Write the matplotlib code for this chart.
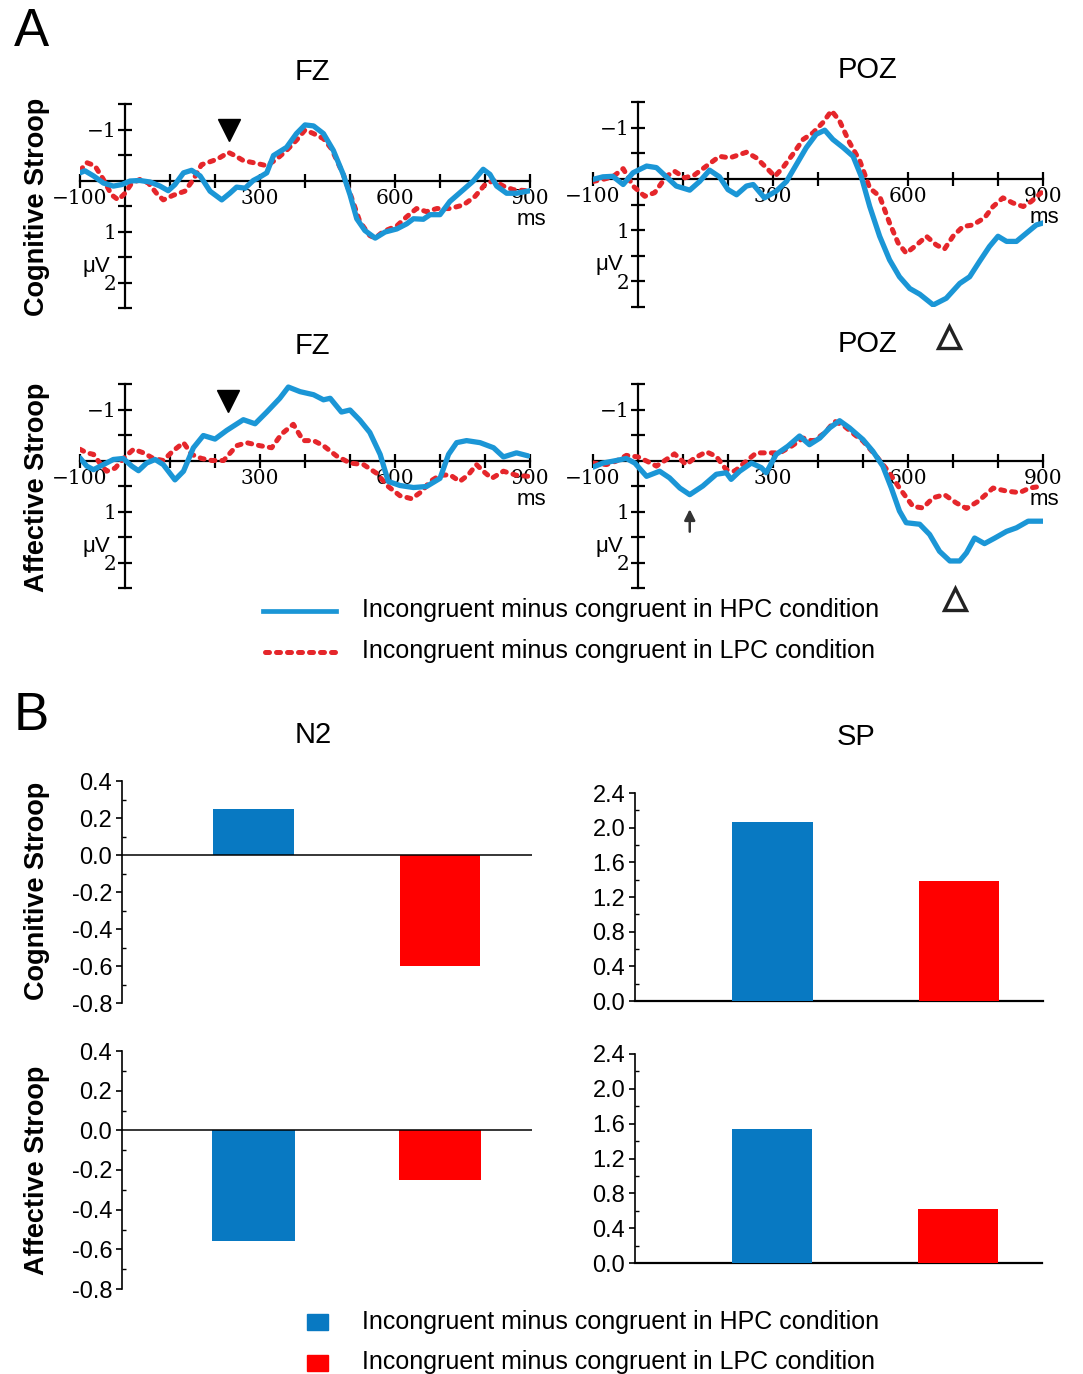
import numpy as np
import matplotlib.pyplot as plt
from matplotlib.lines import Line2D
from matplotlib.patches import Rectangle

plt.rcParams['font.family'] = ['Liberation Sans', 'DejaVu Sans']

W, H = 1083, 1374
BLUE_LINE = '#1b96d6'
RED_LINE = '#e5262b'
BLUE_BAR = '#0879c2'
RED_BAR = '#ff0000'
SERIF = ['DejaVu Serif']
DOTS = (0, (0.8, 1.4))

# ---- ERP difference waves (time in ms, amplitude in uV, negative up) ----
fz_cog_hpc_t = [-100, -89, -70, -48, -26, -7, 11, 33, 56, 78, 96, 111, 130, 148, 167, 189, 215, 233, 248,
                267, 285, 300, 315, 330, 359, 381, 400, 419, 441, 463, 485, 500, 515, 533, 556, 578, 604,
                626, 641, 663, 678, 700, 722, 752, 774, 796, 811, 826, 848, 870, 900]
fz_cog_hpc_v = [-0.15, -0.19, -0.09, 0.05, 0.11, 0.08, 0.01, 0.0, 0.03, 0.11, 0.2, 0.08, -0.15, -0.2, -0.09,
                0.21, 0.38, 0.25, 0.13, 0.15, 0.0, -0.07, -0.15, -0.49, -0.65, -0.92, -1.09, -1.07, -0.92,
                -0.59, -0.12, 0.28, 0.75, 0.98, 1.13, 1.01, 0.95, 0.85, 0.75, 0.76, 0.67, 0.67, 0.41, 0.18,
                0.01, -0.22, -0.12, 0.11, 0.25, 0.25, 0.2]
fz_cog_lpc_t = [-100, -85, -67, -48, -30, -15, 0, 15, 33, 52, 70, 85, 107, 133, 152, 170, 196, 211, 230, 244,
                263, 285, 315, 337, 359, 381, 400, 419, 441, 459, 485, 504, 522, 544, 556, 574, 604, 626,
                648, 670, 693, 722, 752, 778, 800, 819, 841, 863, 893]
fz_cog_lpc_v = [-0.19, -0.35, -0.29, -0.02, 0.28, 0.38, 0.25, 0.05, -0.02, 0.05, 0.25, 0.38, 0.29, 0.21,
                -0.02, -0.31, -0.39, -0.45, -0.55, -0.49, -0.39, -0.35, -0.29, -0.42, -0.59, -0.79, -0.99,
                -0.92, -0.82, -0.62, -0.12, 0.35, 0.81, 1.08, 1.13, 1.0, 0.89, 0.71, 0.55, 0.61, 0.55, 0.55,
                0.48, 0.31, 0.08, 0.0, 0.11, 0.18, 0.2]

poz_cog_hpc_t = [-100, -78, -56, -33, -11, 19, 41, 63, 85, 115, 137, 159, 181, 200, 219, 241, 256, 281, 307,
                 330, 352, 374, 396, 415, 433, 456, 478, 496, 515, 537, 559, 581, 604, 626, 656, 685, 715,
                 737, 759, 781, 800, 819, 841, 863, 885, 904]
poz_cog_hpc_v = [0.01, -0.04, -0.05, 0.11, -0.12, -0.25, -0.22, -0.04, 0.14, 0.22, 0.05, -0.17, -0.04, 0.21,
                 0.31, 0.14, 0.11, 0.37, 0.24, 0.05, -0.28, -0.61, -0.87, -0.95, -0.77, -0.61, -0.44, -0.05,
                 0.54, 1.12, 1.58, 1.91, 2.14, 2.25, 2.46, 2.33, 2.04, 1.91, 1.61, 1.32, 1.12, 1.22, 1.22,
                 1.06, 0.9, 0.85]
poz_cog_lpc_t = [-100, -78, -56, -33, -11, 15, 37, 63, 81, 104, 126, 152, 181, 204, 241, 263, 285, 304, 322,
                 344, 367, 389, 411, 430, 448, 470, 493, 515, 537, 559, 578, 596, 619, 641, 663, 681, 700,
                 722, 744, 770, 789, 811, 833, 856, 874, 896]
poz_cog_lpc_v = [0.05, 0.01, -0.04, -0.2, 0.14, 0.34, 0.27, -0.05, -0.15, -0.02, -0.08, -0.25, -0.44, -0.41,
                 -0.52, -0.41, -0.22, -0.05, -0.22, -0.48, -0.77, -0.9, -1.1, -1.33, -1.13, -0.71, -0.35,
                 0.18, 0.34, 0.86, 1.25, 1.45, 1.29, 1.12, 1.29, 1.37, 1.12, 0.93, 0.9, 0.76, 0.54, 0.37,
                 0.47, 0.54, 0.44, 0.27]

fz_aff_hpc_t = [-100, -85, -70, -48, -26, -4, 15, 30, 48, 67, 85, 111, 130, 152, 174, 200, 226, 263, 289, 315,
                344, 363, 389, 419, 441, 456, 481, 500, 522, 544, 567, 585, 611, 641, 670, 700, 719, 737,
                759, 789, 819, 841, 870, 896]
fz_aff_hpc_v = [-0.05, 0.11, 0.18, 0.08, -0.02, -0.04, 0.11, 0.2, 0.05, -0.02, 0.08, 0.38, 0.21, -0.25,
                -0.49, -0.42, -0.59, -0.8, -0.72, -0.95, -1.22, -1.44, -1.35, -1.29, -1.19, -1.22, -0.95,
                -0.99, -0.79, -0.55, -0.12, 0.41, 0.49, 0.53, 0.51, 0.35, -0.12, -0.35, -0.39, -0.35, -0.25,
                -0.07, -0.15, -0.09]
fz_aff_lpc_t = [-100, -85, -70, -56, -41, -22, 0, 19, 41, 63, 85, 107, 130, 148, 170, 193, 219, 248, 270, 300,
                326, 348, 374, 396, 419, 441, 470, 500, 530, 559, 585, 611, 637, 659, 678, 700, 722, 744,
                763, 781, 796, 815, 841, 870, 896]
fz_aff_lpc_v = [-0.22, -0.15, -0.12, 0.05, 0.21, 0.15, -0.07, -0.22, -0.15, -0.04, 0.0, -0.19, -0.35, -0.12,
                -0.04, 0.0, 0.0, -0.29, -0.35, -0.29, -0.25, -0.52, -0.71, -0.39, -0.39, -0.29, -0.09, 0.05,
                0.08, 0.25, 0.51, 0.69, 0.75, 0.61, 0.41, 0.29, 0.28, 0.41, 0.28, 0.08, 0.21, 0.35, 0.21,
                0.29, 0.31]

poz_aff_hpc_t = [-100, -78, -48, -26, -7, 19, 48, 70, 93, 115, 144, 174, 196, 207, 226, 252, 274, 285, 307,
                 333, 359, 381, 404, 426, 448, 470, 500, 522, 544, 563, 581, 596, 626, 648, 670, 693, 715,
                 730, 748, 770, 793, 819, 841, 867, 904]
poz_aff_hpc_v = [0.13, 0.05, 0.0, -0.04, 0.05, 0.31, 0.21, 0.34, 0.54, 0.67, 0.5, 0.27, 0.24, 0.37, 0.21,
                 0.05, 0.14, 0.24, -0.12, -0.28, -0.48, -0.31, -0.44, -0.64, -0.78, -0.64, -0.41, -0.18,
                 0.11, 0.54, 0.99, 1.22, 1.25, 1.45, 1.78, 1.97, 1.97, 1.81, 1.52, 1.63, 1.52, 1.39, 1.32,
                 1.19, 1.19]
poz_aff_lpc_t = [-100, -70, -48, -26, 0, 19, 41, 63, 81, 107, 126, 152, 174, 196, 215, 241, 263, 293, 315,
                 341, 367, 389, 415, 437, 459, 481, 500, 530, 556, 581, 611, 633, 656, 681, 707, 730, 756,
                 789, 819, 848, 870, 900]
poz_aff_lpc_v = [0.05, 0.08, 0.01, -0.1, -0.07, 0.01, 0.11, -0.02, -0.13, 0.08, -0.05, -0.17, -0.08, 0.18,
                 0.21, 0.01, -0.15, -0.15, -0.15, -0.28, -0.44, -0.38, -0.54, -0.77, -0.67, -0.51, -0.38,
                 -0.08, 0.21, 0.54, 0.9, 0.93, 0.73, 0.67, 0.83, 0.94, 0.8, 0.54, 0.6, 0.63, 0.54, 0.5]

# ---- mean amplitudes (uV) ----
bar_conditions = ['HPC', 'LPC']
n2_cog = [0.25, -0.60]
sp_cog = [2.06, 1.38]
n2_aff = [-0.56, -0.25]
sp_aff = [1.54, 0.62]

legend_labels = ['Incongruent minus congruent in HPC condition',
                 'Incongruent minus congruent in LPC condition']

fig = plt.figure(figsize=(W / 100, H / 100), dpi=100)


def px_axes(left, top, right, bottom):
    # place an axes using pixel edges of the reference picture
    return fig.add_axes([left / W, 1 - bottom / H, (right - left) / W, (bottom - top) / H])


def ftext(x, y, s, **kw):
    fig.text(x / W, 1 - y / H, s, **kw)


def erp_panel(ax, hpc_t, hpc_v, lpc_t, lpc_v):
    ax.plot(lpc_t, lpc_v, color=RED_LINE, lw=3.6, ls=DOTS,
            dash_capstyle='round', solid_joinstyle='round', zorder=3)
    ax.plot(hpc_t, hpc_v, color=BLUE_LINE, lw=3.8, solid_joinstyle='round',
            solid_capstyle='round', zorder=4)
    ax.set_xlim(-100, 900)
    ax.set_ylim(2.5, -1.5)
    for s in ['top', 'right']:
        ax.spines[s].set_visible(False)
    ax.spines['left'].set_position(('data', 0))
    ax.spines['bottom'].set_position(('data', 0))
    for s in ['left', 'bottom']:
        ax.spines[s].set_linewidth(1.6)
    xt = [-100, 100, 200, 300, 400, 500, 600, 700, 800, 900]
    ax.set_xticks(xt)
    ax.set_xticklabels(['\u2212100' if t == -100 else (str(t) if t in (300, 600, 900) else '') for t in xt],
                       family=SERIF, fontsize=14.5)
    yt = [-1.5, -1, -0.5, 0.5, 1, 1.5, 2, 2.5]
    ylab = {-1: '\u22121', 1: '1', 2: '2'}
    ax.set_yticks(yt)
    ax.set_yticklabels([ylab.get(v, '') for v in yt], family=SERIF, fontsize=14.5)
    ax.tick_params(axis='both', direction='inout', length=10, width=1.6, pad=1)
    ax.text(-64, 1.68, '\u03bcV', fontsize=16, ha='center', va='center')
    ax.text(904, 0.76, 'ms', fontsize=16, ha='center', va='center')
    ax.patch.set_visible(False)


ax1 = px_axes(80, 104, 530, 308)
erp_panel(ax1, fz_cog_hpc_t, fz_cog_hpc_v, fz_cog_lpc_t, fz_cog_lpc_v)
ax1.plot([230], [-1.0], marker='v', ms=16, color='black', clip_on=False)

ax2 = px_axes(593, 102, 1043, 307)
erp_panel(ax2, poz_cog_hpc_t, poz_cog_hpc_v, poz_cog_lpc_t, poz_cog_lpc_v)
ax2.plot([691], [3.08], marker='^', ms=16, mfc='white', mec='#222222', mew=2.4, clip_on=False)

ax3 = px_axes(80, 384, 530, 588)
erp_panel(ax3, fz_aff_hpc_t, fz_aff_hpc_v, fz_aff_lpc_t, fz_aff_lpc_v)
ax3.plot([229], [-1.16], marker='v', ms=16, color='black', clip_on=False)

ax4 = px_axes(593, 384, 1043, 588)
erp_panel(ax4, poz_aff_hpc_t, poz_aff_hpc_v, poz_aff_lpc_t, poz_aff_lpc_v)
ax4.plot([704], [2.72], marker='^', ms=16, mfc='white', mec='#222222', mew=2.4, clip_on=False)
ax4.annotate('', xy=(115, 0.9), xytext=(115, 1.45),
             arrowprops=dict(arrowstyle='-|>', color='#333333', lw=1.8, mutation_scale=16))


def bar_panel(ax, values, ylim, yticks, xlim, width, zero_spine):
    ax.bar([1, 2], values, width=width, color=[BLUE_BAR, RED_BAR], zorder=3)
    ax.set_xlim(*xlim)
    ax.set_ylim(*ylim)
    for s in ['top', 'right']:
        ax.spines[s].set_visible(False)
    ax.spines['left'].set_linewidth(1.2)
    if zero_spine:
        ax.spines['bottom'].set_linewidth(1.6)
    else:
        ax.spines['bottom'].set_visible(False)
        ax.axhline(0, color='black', lw=1.1, zorder=4)
    ax.set_xticks([])
    ax.set_yticks(yticks)
    ax.set_yticklabels(['%.1f' % v for v in yticks], fontsize=17)
    step = yticks[1] - yticks[0]
    ax.set_yticks(np.arange(ylim[0], ylim[1] + 1e-9, step / 2), minor=True)
    ax.tick_params(axis='y', which='major', direction='out', length=4, width=1.2, pad=3)
    ax.tick_params(axis='y', which='minor', direction='in', length=3, width=1.0)
    ax.patch.set_visible(False)


n2_ticks = [-0.8, -0.6, -0.4, -0.2, 0.0, 0.2, 0.4]
sp_ticks = [0.0, 0.4, 0.8, 1.2, 1.6, 2.0, 2.4]

bx1 = px_axes(122, 781, 532, 1003)
bar_panel(bx1, n2_cog, (-0.8, 0.4), n2_ticks, (0.295, 2.493), 0.43, False)
bx2 = px_axes(635, 793, 1043, 1001)
bar_panel(bx2, sp_cog, (0.0, 2.4), sp_ticks, (0.263, 2.45), 0.43, True)
bx3 = px_axes(122, 1051, 532, 1289)
bar_panel(bx3, n2_aff, (-0.8, 0.4), n2_ticks, (0.295, 2.493), 0.44, False)
bx4 = px_axes(635, 1054, 1042, 1263)
bar_panel(bx4, sp_aff, (0.0, 2.4), sp_ticks, (0.263, 2.45), 0.43, True)

# panel letters, titles and row labels
ftext(31, 32, 'A', fontsize=38, ha='center', va='center')
ftext(31, 716, 'B', fontsize=38, ha='center', va='center')
for x, y, s in [(312, 72, 'FZ'), (867, 70, 'POZ'), (312, 346, 'FZ'), (867, 344, 'POZ'),
                (313, 735, 'N2'), (856, 737, 'SP')]:
    ftext(x, y, s, fontsize=21, ha='center', va='center')
for y, s in [(207, 'Cognitive Stroop'), (487, 'Affective Stroop'),
             (891, 'Cognitive Stroop'), (1170, 'Affective Stroop')]:
    ftext(37, y, s, fontsize=19.5, fontweight='bold', rotation=90, ha='center', va='center')

# legends
fig.add_artist(Line2D([263 / W, 336 / W], [1 - 611 / H] * 2, color=BLUE_LINE, lw=3.4))
fig.add_artist(Line2D([265 / W, 335 / W], [1 - 652 / H] * 2, color=RED_LINE, lw=3.6,
                      ls=DOTS, dash_capstyle='round'))
ftext(362, 610, legend_labels[0], fontsize=18, va='center')
ftext(362, 651, legend_labels[1], fontsize=18, va='center')

fig.add_artist(Rectangle((307 / W, 1 - 1330 / H), 21 / W, 16 / H, color=BLUE_BAR))
fig.add_artist(Rectangle((307 / W, 1 - 1371 / H), 21 / W, 16 / H, color=RED_BAR))
ftext(362, 1322, legend_labels[0], fontsize=18, va='center')
ftext(362, 1362, legend_labels[1], fontsize=18, va='center')

fig.savefig('out.png', dpi=100)
